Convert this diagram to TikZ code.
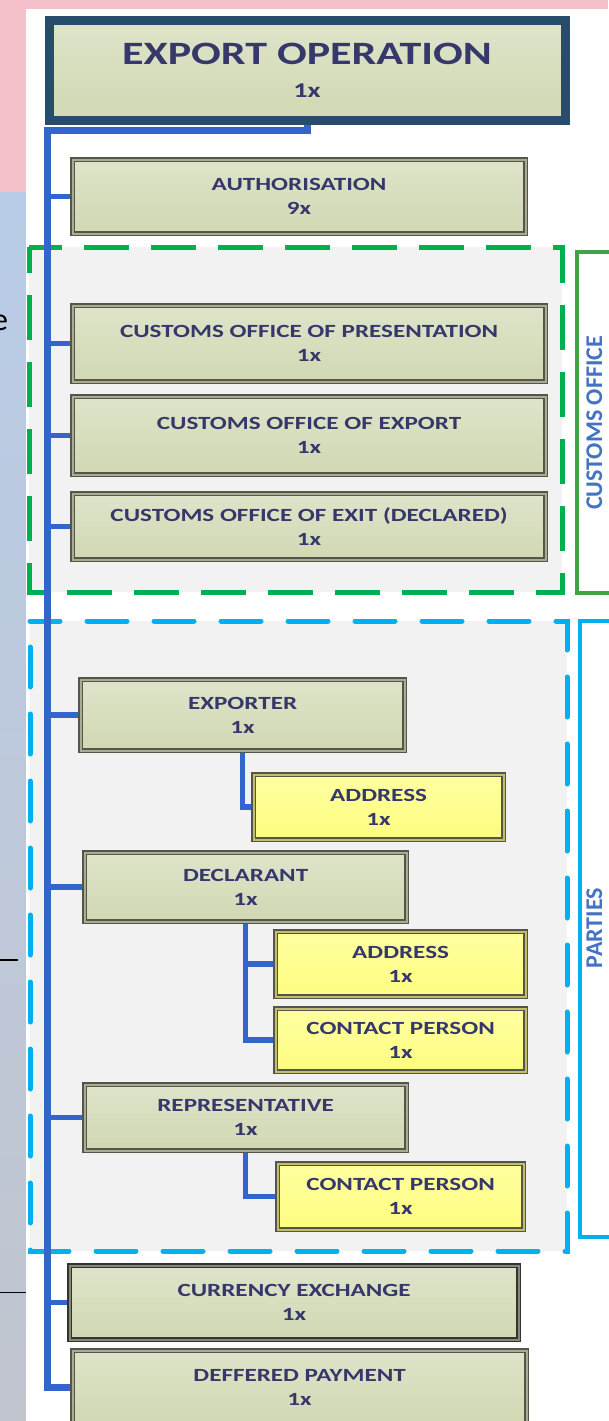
\documentclass[tikz,border=0pt]{standalone}
\usepackage{fontspec}
\newfontfamily\boxfnt[FakeStretch=1.35]{Carlito}
\newfontfamily\labfnt{Carlito}
\usetikzlibrary{shadows}
\definecolor{txt}{HTML}{36376A}
\definecolor{labblue}{HTML}{4472C4}
\definecolor{trunkblue}{HTML}{3366CC}
\definecolor{navy}{HTML}{284C6C}
\definecolor{olivet}{HTML}{DEE4C9}
\definecolor{oliveb}{HTML}{D1D8B3}
\definecolor{yelt}{HTML}{FFFFA0}
\definecolor{yelb}{HTML}{FDFD80}
\definecolor{bline}{HTML}{55554A}
\definecolor{bmid}{HTML}{A9AB92}
\definecolor{ymid}{HTML}{C2BE6A}
\definecolor{gdash}{HTML}{00B050}
\definecolor{glab}{HTML}{40A348}
\definecolor{bdash}{HTML}{00B0F0}
\definecolor{regfill}{HTML}{F2F2F2}
\definecolor{pinkbg}{HTML}{F4C1CB}
\definecolor{bluebg}{HTML}{B9CCE7}
\definecolor{graybg}{HTML}{C1C5CE}
\newcommand\mySmall{\boxfnt\bfseries\fontsize{18.6}{24}\selectfont}
\newcommand\myBig{\boxfnt\bfseries\fontsize{32.6}{33}\selectfont}
\pgfdeclarelayer{bg}
\pgfdeclarelayer{lines}
\pgfsetlayers{bg,lines,main}
\begin{document}
\begin{tikzpicture}[x=1pt,y=-1pt,
  box/.style={draw=bline, double=bmid, double distance=2.2pt, line width=1.2pt,
    top color=olivet, bottom color=oliveb, anchor=north west, inner sep=0pt,
    align=center, text=txt, font=\mySmall,
    drop shadow={shadow xshift=1.5pt, shadow yshift=-1.5pt, opacity=0.25}},
  ybox/.style={box, double=ymid, top color=yelt, bottom color=yelb},
  dbox/.style={box, draw=black!80, double=bmid!80!black},
  conn/.style={draw=trunkblue, line width=5.5pt, line join=miter},
  trunk/.style={conn, line width=7pt},
  lab/.style={rotate=90, anchor=base, inner sep=0pt, text=labblue, font=\labfnt\bfseries\fontsize{24}{24}\selectfont}]
\useasboundingbox (0,0) rectangle (608,1421);

% ---------- background ----------
\begin{pgfonlayer}{bg}
\fill[pinkbg] (0,0) rectangle (608,1421);
\shade[top color=bluebg, bottom color=graybg] (0,192) rectangle (26,1421);
\fill[white] (26,9) rectangle (608,1421);
\node[anchor=base west, inner sep=0pt, font=\labfnt\fontsize{32}{32}\selectfont] (frag) at (-8,330) {e};
\draw[black, line width=2pt] (0,960) -- (18,960);
\draw[black, line width=1pt] (0,1292) -- (26,1292);

% customs office region
\fill[regfill] (29,247) rectangle (562,592);
\draw[gdash, line width=5pt, dash pattern=on 45pt off 22pt, dash phase=12pt]
  (29,247) -- (562,247) -- (562,592) -- (29,592) -- cycle;
\draw[glab, line width=4pt] (640,252) -- (577,252) -- (577,593) -- (640,593);
\node[lab] (colab) at (602,423) {CUSTOMS OFFICE};

% parties region
\fill[regfill] (30,621) rectangle (567,1251);
\draw[bdash, line width=5pt, line cap=round, dash pattern=on 40pt off 27pt, dash phase=10pt]
  (30,621) -- (567,621) -- (567,1251) -- (30,1251) -- cycle;
\draw[bdash, line width=4pt] (640,621) -- (580,621) -- (580,1237) -- (640,1237);
\node[lab] (palab) at (602,928) {PARTIES};
\end{pgfonlayer}

% ---------- boxes ----------
\node[anchor=north west, draw=navy, line width=9pt, top color=olivet, bottom color=oliveb,
  minimum width=516pt, minimum height=99pt, inner sep=0pt, align=center, text=txt, font=\myBig,
  drop shadow={shadow xshift=1.5pt, shadow yshift=-1.5pt, opacity=0.25}]
  (exp) at (44.5,16.5) {EXPORT OPERATION\\{\fontsize{21}{33}\selectfont 1x}};

\node[box, minimum width=453pt, minimum height=74pt] (auth) at (72,159) {AUTHORISATION\\9x};
\node[box, minimum width=473pt, minimum height=76pt] (copres) at (72,305) {CUSTOMS OFFICE OF PRESENTATION\\1x};
\node[box, minimum width=473pt, minimum height=78pt] (coexp) at (72,396) {CUSTOMS OFFICE OF EXPORT\\1x};
\node[box, minimum width=473pt, minimum height=66pt] (coexit) at (72,493) {CUSTOMS OFFICE OF EXIT (DECLARED)\\1x};

\node[box, minimum width=324pt, minimum height=71pt] (exr) at (80,679) {EXPORTER\\1x};
\node[ybox, minimum width=250pt, minimum height=65pt] (ead) at (253,774) {ADDRESS\\1x};
\node[box, minimum width=322pt, minimum height=69pt] (dec) at (84,852) {DECLARANT\\1x};
\node[ybox, minimum width=250pt, minimum height=65pt] (dad) at (275,931) {ADDRESS\\1x};
\node[ybox, minimum width=250pt, minimum height=63pt] (dcp) at (275,1008) {CONTACT PERSON\\1x};
\node[box, minimum width=322pt, minimum height=66pt] (rep) at (84,1084) {REPRESENTATIVE\\1x};
\node[ybox, minimum width=246pt, minimum height=66pt] (rcp) at (277,1163) {CONTACT PERSON\\1x};

\node[dbox, minimum width=449pt, minimum height=74pt] (cur) at (69,1265) {CURRENCY EXCHANGE\\1x};
\node[box, minimum width=454pt, minimum height=74pt] (def) at (72,1350) {DEFFERED PAYMENT\\1x};

% ---------- connectors ----------
\begin{pgfonlayer}{lines}
\coordinate (t0) at (47,130);
\draw[trunk] (exp.south) |- (t0) |- (def.west);
\foreach \b in {auth,copres,coexp,coexit,exr,dec,rep,cur}
  \draw[conn] (t0 |- \b.west) -- (\b.west);
\draw[conn] (exr.south) |- (ead.west);
\draw[conn] (dec.south) |- (dcp.west);
\draw[conn] (dec.south |- dad.west) -- (dad.west);
\draw[conn] (rep.south) |- (rcp.west);
\end{pgfonlayer}
\end{tikzpicture}
\end{document}
